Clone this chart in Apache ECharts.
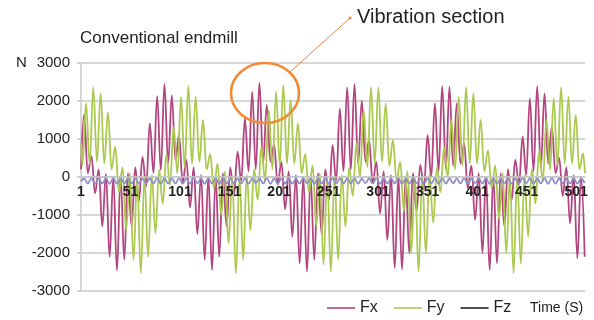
<!DOCTYPE html>
<html>
<head>
<meta charset="utf-8">
<script src="https://cdn.jsdelivr.net/npm/echarts@6/dist/echarts.min.js"></script>
<style>
  html, body { margin: 0; padding: 0; background: #fff; }
  #chart { width: 594px; height: 320px; }
</style>
</head>
<body>
<div id="chart"></div>
<script>
// Cutting force record of a conventional endmill: Fx, Fy, Fz against sample number.
// Each series is stored as its turning points (peaks and valleys) with the sample
// number at which they occur; the line is drawn smoothly through them.

const xTickLabels = [1, 51, 101, 151, 201, 251, 301, 351, 401, 451, 501];
const seriesNames = ['Fx', 'Fy', 'Fz'];

const fxTime = [
  1, 4.1, 7.8, 11.5, 15.2, 18.9,
  22.5, 26.2, 29.9, 33.6, 37.3, 41.0, 44.7, 48.4, 52.1, 55.8,
  59.4, 63.1, 66.8, 70.5, 74.2, 77.9, 81.6, 85.3, 89.0, 92.7,
  96.4, 100.0, 103.7, 107.4, 111.1, 114.8, 118.5, 122.2, 125.9, 129.6,
  133.3, 137.0, 140.6, 144.3, 148.0, 151.7, 155.4, 159.1, 162.8, 166.5,
  170.2, 173.9, 177.5, 181.2, 184.9, 188.6, 192.3, 196.0, 199.7, 203.4,
  207.1, 210.8, 214.4, 218.1, 221.8, 225.5, 229.2, 232.9, 236.6, 240.3,
  244.0, 247.7, 251.4, 255.0, 258.7, 262.4, 266.1, 269.8, 273.5, 277.2,
  280.9, 284.6, 288.3, 291.9, 295.6, 299.3, 303.0, 306.7, 310.4, 314.1,
  317.8, 321.5, 325.2, 328.9, 332.5, 336.2, 339.9, 343.6, 347.3, 351.0,
  354.7, 358.4, 362.1, 365.8, 369.5, 373.1, 376.8, 380.5, 384.2, 387.9,
  391.6, 395.3, 399.0, 402.7, 406.4, 410.0, 413.7, 417.4, 421.1, 424.8,
  428.5, 432.2, 435.9, 439.6, 443.3, 447.0, 450.6, 454.3, 458.0, 461.7,
  465.4, 469.1, 472.8, 476.5, 480.2, 483.9, 487.5, 491.2, 494.9, 498.6,
  502.3, 506.0, 509.7
];
const fxForce = [
  200, 1650, 100, 550, -430, 200,
  -1300, 80, -2100, 0, -2460, 20, -2180, 100, -1300, 250,
  -650, 530, -250, 1410, 100, 2130, 180, 2450, 350, 2150,
  450, 1100, -150, 450, -800, 250, -1500, 50, -2180, 0,
  -2450, 0, -2100, 100, -1300, 250, -500, 670, -100, 1540,
  150, 2245, 200, 2480, 350, 1900, 400, 850, -200, 400,
  -850, 150, -1570, 50, -2270, 0, -2490, 0, -2180, 100,
  -1500, 200, -600, 840, -100, 1800, 150, 2360, 200, 2450,
  350, 2010, 400, 970, -150, 400, -960, 150, -1660, 50,
  -2400, 0, -2430, 0, -2000, 100, -900, 320, -300, 1100,
  0, 1940, 150, 2390, 200, 2380, 300, 1940, 350, 890,
  -300, 300, -1130, 100, -2000, 0, -2450, 0, -2270, 100,
  -1300, 200, -600, 450, -200, 1060, 50, 2070, 150, 2390,
  250, 2200, 350, 1320, 100, 500, -500, 250, -1220, 50,
  -2140, 0, -2100
];

const fyTime = [
  1, 2.4, 6.1, 9.7,
  13.4, 17.1, 20.8, 24.5, 28.2, 31.9, 35.6, 39.3, 43.0, 46.6,
  50.3, 54.0, 57.7, 61.4, 65.1, 68.8, 72.5, 76.2, 79.9, 83.6,
  87.2, 90.9, 94.6, 98.3, 102.0, 105.7, 109.4, 113.1, 116.8, 120.5,
  124.2, 127.8, 131.5, 135.2, 138.9, 142.6, 146.3, 150.0, 153.7, 157.4,
  161.1, 164.8, 168.4, 172.1, 175.8, 179.5, 183.2, 186.9, 190.6, 194.3,
  198.0, 201.7, 205.3, 209.0, 212.7, 216.4, 220.1, 223.8, 227.5, 231.2,
  234.9, 238.6, 242.2, 245.9, 249.6, 253.3, 257.0, 260.7, 264.4, 268.1,
  271.8, 275.5, 279.2, 282.8, 286.5, 290.2, 293.9, 297.6, 301.3, 305.0,
  308.7, 312.4, 316.1, 319.7, 323.4, 327.1, 330.8, 334.5, 338.2, 341.9,
  345.6, 349.3, 353.0, 356.7, 360.4, 364.0, 367.7, 371.4, 375.1, 378.8,
  382.5, 386.2, 389.9, 393.6, 397.2, 400.9, 404.6, 408.3, 412.0, 415.7,
  419.4, 423.1, 426.8, 430.5, 434.2, 437.8, 441.5, 445.2, 448.9, 452.6,
  456.3, 460.0, 463.7, 467.4, 471.1, 474.8, 478.4, 482.1, 485.8, 489.5,
  493.2, 496.9, 500.6, 504.3, 508.0, 510
];
const fyForce = [
  900, 300, 1940, 350,
  2360, 400, 2200, 350, 1700, 200, 800, -400, 250, -1400,
  100, -2180, 0, -2530, 0, -2100, 50, -1480, 200, -700,
  600, -200, 1320, 100, 2110, 250, 2390, 350, 2110, 400,
  1500, 200, 600, -300, 350, -1000, 150, -1750, 0, -2530,
  0, -2180, 50, -1400, 200, -600, 800, -100, 1760, 200,
  2245, 300, 2420, 350, 2030, 350, 1410, 100, 600, -400,
  300, -1300, 100, -2300, 0, -2490, 0, -2170, 50, -1300,
  250, -500, 900, 0, 1760, 250, 2360, 350, 2360, 400,
  1940, 300, 970, -100, 400, -900, 150, -2000, 0, -2490,
  0, -2000, 100, -1200, 250, -400, 800, 0, 1500, 200,
  2110, 300, 2360, 350, 2200, 350, 1500, 150, 700, -300,
  300, -1100, 100, -2000, 0, -2530, 0, -2270, 50, -1570,
  200, -700, 700, -100, 1500, 200, 2070, 300, 2360, 350,
  2110, 350, 1630, 200, 620, 100
];

// Fz shares the tooth-passing times of Fx.
const fzForce = [
  -120, -40, -170, -35, -175, -45,
  -170, -40, -180, -30, -175, -40, -165, -45, -170, -35,
  -175, -45, -160, -40, -170, -30, -180, -40, -170, -45,
  -165, -35, -175, -45, -170, -30, -165, -40, -180, -40,
  -170, -40, -180, -30, -175, -40, -165, -45, -170, -35,
  -175, -45, -160, -40, -170, -30, -180, -40, -170, -45,
  -165, -35, -175, -45, -170, -30, -165, -40, -180, -40,
  -170, -40, -180, -30, -175, -40, -165, -45, -170, -35,
  -175, -45, -160, -40, -170, -30, -180, -40, -170, -45,
  -165, -35, -175, -45, -170, -30, -165, -40, -180, -40,
  -170, -40, -180, -30, -175, -40, -165, -45, -170, -35,
  -175, -45, -160, -40, -170, -30, -180, -40, -170, -45,
  -165, -35, -175, -45, -170, -30, -165, -40, -180, -40,
  -170, -40, -180, -30, -175, -40, -165, -45, -170, -35,
  -175, -45, -160
];

const zip = (t, v) => t.map((x, i) => [x, v[i]]);

const FONT = '"Liberation Sans", Arial, Helvetica, sans-serif';
const colors = { Fx: '#b2447f', Fy: '#abc94e', Fz: '#8c8fc4' };
const GRID_GRAY = '#c8c8c8';

// Plot area in the page; the time axis is lifted onto the zero line.
const GRID = { left: 81, right: 9, top: 63, bottom: 29 };
const PLOT_H = 320 - GRID.top - GRID.bottom;

const chart = echarts.init(document.getElementById('chart'), null, { renderer: 'canvas' });

const lineSeries = (name, data) => ({
  name,
  type: 'line',
  data,
  color: colors[name],
  showSymbol: false,
  symbol: 'none',
  smooth: 0.4,
  smoothMonotone: 'x',
  lineStyle: { width: 1.8, color: colors[name] },
  animation: false
});

chart.setOption({
  animation: false,
  textStyle: { fontFamily: FONT },
  grid: Object.assign({ containLabel: false }, GRID),
  xAxis: {
    type: 'value',
    min: 1,
    max: 510,
    z: 5,
    position: 'bottom',
    offset: -PLOT_H / 2,
    axisLine: { show: true, onZero: false, lineStyle: { color: GRID_GRAY, width: 1.5 } },
    axisTick: { show: false },
    splitLine: { show: false },
    axisLabel: {
      customValues: xTickLabels,
      formatter: (v) => String(v),
      fontSize: 14,
      fontWeight: 'bold',
      color: '#222',
      margin: 8,
      fontFamily: FONT
    }
  },
  yAxis: {
    type: 'value',
    min: -3000,
    max: 3000,
    interval: 1000,
    axisLine: { show: true, onZero: false, lineStyle: { color: GRID_GRAY, width: 1.5 } },
    axisTick: { show: true, length: 4, lineStyle: { color: GRID_GRAY, width: 1.5 } },
    splitLine: { show: true, lineStyle: { color: GRID_GRAY, width: 1.5 } },
    axisLabel: { formatter: (v) => String(v), fontSize: 15, color: '#222', margin: 11, fontFamily: FONT }
  },
  legend: {
    data: [
      { name: 'Fx' },
      { name: 'Fy' },
      { name: 'Fz', itemStyle: { color: '#222' } }
    ],
    left: 327,
    top: 300,
    padding: 0,
    icon: 'rect',
    itemWidth: 28,
    itemHeight: 1.6,
    itemGap: 16,
    selectedMode: false,
    textStyle: { fontSize: 16, color: '#222', fontFamily: FONT }
  },
  series: [
    lineSeries('Fx', zip(fxTime, fxForce)),
    lineSeries('Fy', zip(fyTime, fyForce)),
    lineSeries('Fz', zip(fxTime, fzForce))
  ],
  graphic: [
    { type: 'text', x: 80, y: 38.5, style: { text: 'Conventional endmill', font: '17px ' + FONT, fill: '#222', verticalAlign: 'middle' } },
    { type: 'text', x: 16, y: 63, style: { text: 'N', font: '15px ' + FONT, fill: '#222', verticalAlign: 'middle' } },
    { type: 'text', x: 530, y: 308, style: { text: 'Time (S)', font: '14px ' + FONT, fill: '#222', verticalAlign: 'middle' } },
    { type: 'text', x: 357, y: 17.5, style: { text: 'Vibration section', font: '20px ' + FONT, fill: '#222', verticalAlign: 'middle' } },
    { type: 'ellipse', z: 100, shape: { cx: 265, cy: 93, rx: 34, ry: 30 }, style: { fill: 'none', stroke: '#f08c35', lineWidth: 2.6 } },
    { type: 'line', z: 100, shape: { x1: 290, y1: 72, x2: 350, y2: 18 }, style: { stroke: '#f0803c', lineWidth: 1 } },
    { type: 'circle', z: 100, shape: { cx: 350, cy: 18, r: 1.5 }, style: { fill: '#f0803c' } }
  ]
});
</script>
</body>
</html>
